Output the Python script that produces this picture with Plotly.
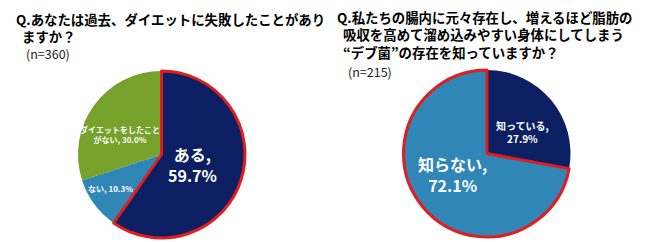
import plotly.graph_objects as go

# Left chart data
left_labels = ["ある", "ない", "ダイエットをしたことがない"]
left_values = [59.7, 10.3, 30.0]
left_colors = ["#0C1F62", "#2F86B7", "#76A22C"]
left_highlight = [True, False, False]

# Right chart data
right_labels = ["知っている", "知らない"]
right_values = [27.9, 72.1]
right_colors = ["#0C1F62", "#2F86B7"]
right_highlight = [False, True]

left_title = "Q.あなたは過去、ダイエットに失敗したことがあり<br>  ますか？"
left_n = "(n=360)"
right_title = "Q.私たちの腸内に元々存在し、増えるほど脂肪の<br>  吸収を高めて溜め込みやすい身体にしてしまう<br>  “デブ菌”の存在を知っていますか？"
right_n = "(n=215)"

W, H = 650, 242
RED = "#E01E1E"
FONT = "Noto Sans CJK JP"


def dom(x0, x1, y0, y1):
    return dict(x=[x0 / W, x1 / W], y=[1 - y1 / H, 1 - y0 / H])


left_dom = dom(78, 245, 71, 238)
right_dom = dom(403, 571, 70, 237)

fig = go.Figure()


def add_pie(labels, values, colors, highlight, domain):
    fig.add_trace(go.Pie(
        labels=labels, values=values, sort=False, direction="clockwise",
        rotation=0, domain=domain, textinfo="none", hoverinfo="label+percent",
        marker=dict(colors=colors, line=dict(width=0)), showlegend=False))
    fig.add_trace(go.Pie(
        labels=labels, values=values, sort=False, direction="clockwise",
        rotation=0, domain=domain, textinfo="none", hoverinfo="skip",
        marker=dict(colors=["rgba(0,0,0,0)"] * len(values),
                    line=dict(color=[RED if h else "rgba(0,0,0,0)" for h in highlight],
                              width=[3 if h else 0 for h in highlight])),
        showlegend=False))


add_pie(left_labels, left_values, left_colors, left_highlight, left_dom)
add_pie(right_labels, right_values, right_colors, right_highlight, right_dom)


def ann(x, y, text, size, bold=True, color="white", xanchor="center", align="center"):
    t = f"<b>{text}</b>" if bold else text
    fig.add_annotation(x=x / W, y=1 - y / H, xref="paper", yref="paper", text=t,
                       showarrow=False, xanchor=xanchor, yanchor="middle", align=align,
                       font=dict(family=FONT, size=size, color=color))


def pct(v):
    return f"{v:.1f}%"

# Titles
fig.add_annotation(x=14 / W, y=1 - 7 / H, xref="paper", yref="paper", text=f"<b>{left_title}</b>",
                   showarrow=False, xanchor="left", yanchor="top", align="left",
                   font=dict(family=FONT, size=13.4, color="black"))
ann(24, 53, left_n, 12.5, bold=False, color="#222", xanchor="left", align="left")
fig.add_annotation(x=335 / W, y=1 - 5 / H, xref="paper", yref="paper", text=f"<b>{right_title}</b>",
                   showarrow=False, xanchor="left", yanchor="top", align="left",
                   font=dict(family=FONT, size=13.4, color="black"))
ann(346, 71, right_n, 12.5, bold=False, color="#222", xanchor="left", align="left")

# Slice labels
ann(193, 164, f"{left_labels[0]},<br>{pct(left_values[0])}", 16)
ann(120, 134, "ダイエットをしたこと<br>がない, " + pct(left_values[2]), 8)
ann(111, 188, f"{left_labels[1]}, {pct(left_values[1])}", 8)
ann(522, 132, f"{right_labels[0]},<br>{pct(right_values[0])}", 10)
ann(452, 174, f"{right_labels[1]},<br>{pct(right_values[1])}", 16)

fig.update_layout(width=W, height=H, margin=dict(l=0, r=0, t=0, b=0),
                  paper_bgcolor="white", plot_bgcolor="white",
                  font=dict(family=FONT))

fig.write_html("out.html")
